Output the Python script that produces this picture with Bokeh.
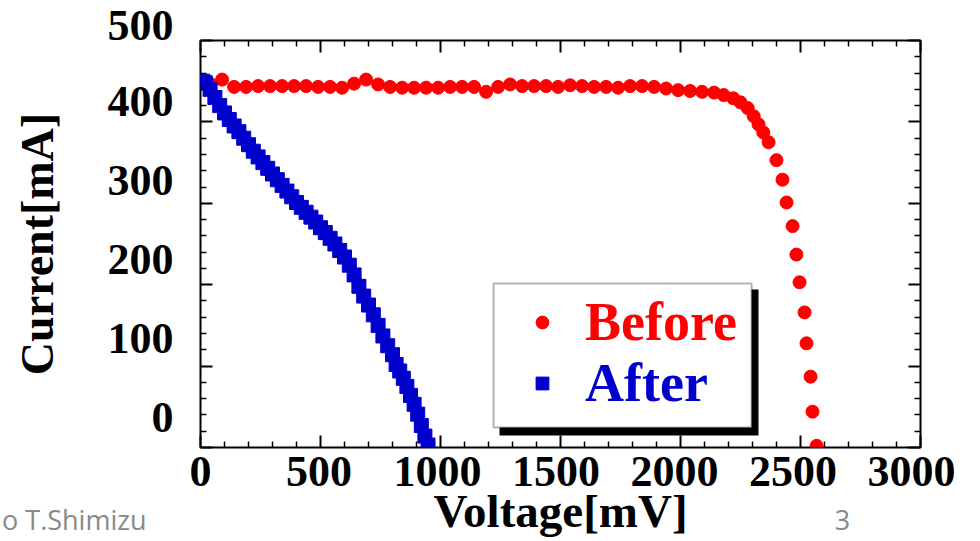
from bokeh.plotting import figure
from bokeh.models import (Range1d, LinearAxis, FixedTicker, Legend, LegendItem,
                          BoxAnnotation)
from bokeh.core.properties import value
from bokeh.embed import file_html
from bokeh.resources import INLINE

# ---------------- data ----------------
before_v = [40, 90, 140, 190, 240, 290, 340, 390, 440, 490, 540, 590, 640, 690, 740,
            790, 840, 890, 940, 990, 1040, 1090, 1140, 1190, 1240, 1290, 1340, 1390,
            1440, 1490, 1540, 1590, 1640, 1690, 1740, 1790, 1840, 1890, 1940, 1990,
            2040, 2090, 2140, 2180, 2220, 2250, 2280, 2305, 2325, 2345, 2367, 2400,
            2425, 2442, 2467, 2483, 2496, 2517, 2525, 2542, 2550, 2567]
before_i = [447, 452, 443, 443, 444, 444, 444, 444, 444, 443, 443, 442, 447, 452, 446,
            443, 442, 442, 442, 442, 443, 443, 443, 437, 443, 446, 444, 444,
            444, 443, 445, 444, 443, 443, 442, 444, 444, 443, 441, 439,
            438, 437, 436, 433, 429, 424, 417, 407, 397, 387, 375, 353,
            329, 301, 272, 237, 203, 166, 128, 87, 44, 2]

after_v = [10, 20, 40, 60, 80, 100, 120, 140, 160, 180, 200, 220, 240, 260, 280, 300,
           320, 340, 360, 380, 400, 420, 440, 460, 480, 500, 520, 540, 560, 580, 600,
           620, 640, 660, 680, 700, 720, 740, 760, 780, 800, 815, 830, 845, 860, 875,
           890, 905, 920, 935, 948]
after_i = [450, 448, 440, 430, 420, 411, 403, 395, 388, 380, 372, 364, 357, 350, 343, 336,
           329, 322, 315, 308, 301, 295, 289, 283, 277, 270, 264, 257, 250, 242, 234,
           224, 212, 198, 186, 175, 163, 150, 137, 125, 114, 102, 94, 85, 75, 64,
           53, 41, 27, 14, 3]

x_ticks = [0, 500, 1000, 1500, 2000, 2500, 3000]
x_minor = [100, 200, 300, 400, 600, 700, 800, 900, 1100, 1200, 1300, 1400,
           1600, 1700, 1800, 1900, 2100, 2200, 2300, 2400, 2600, 2700, 2800, 2900]
y_ticks = [0, 100, 200, 300, 400, 500]
y_minor = [20, 40, 60, 80, 120, 140, 160, 180, 220, 240, 260, 280,
           320, 340, 360, 380, 420, 440, 460, 480]

series_names = ["Before", "After"]
series_colors = ["#ff0000", "#0000cc"]
x_title = "Voltage[mV]"
y_title = "Current[mA]"
footer_left = "o T.Shimizu"
page_number = "3"

SERIF = "Liberation Serif"
NBSP = "\u00a0"

p = figure(width=980, height=541, output_backend="svg", toolbar_location=None,
           x_range=Range1d(0, 3000), y_range=Range1d(0, 500),
           x_axis_location=None, y_axis_location=None,
           min_border_left=200, min_border_right=60, min_border_top=40,
           min_border_bottom=94, background_fill_color="white",
           border_fill_color="white")
p.grid.visible = False
p.outline_line_color = "black"
p.outline_line_width = 2

# ranges only used to place texts the way the original software did
p.extra_x_ranges = {"xlab": Range1d(-0.01, 3038), "foot": Range1d(0, 720)}
p.extra_y_ranges = {"ylab": Range1d(-1, 514)}


def tick_axis(positions, length, width, **kw):
    # an axis that only draws inward tick marks (no labels)
    return LinearAxis(ticker=FixedTicker(ticks=[], minor_ticks=positions),
                      axis_line_color=None,
                      major_tick_in=0, major_tick_out=0, major_tick_line_color=None,
                      minor_tick_in=length, minor_tick_out=0,
                      minor_tick_line_width=width, minor_tick_line_color="black",
                      major_label_standoff=0, **kw)


def label_axis(ticks, **kw):
    return LinearAxis(ticker=FixedTicker(ticks=ticks, minor_ticks=[]),
                      axis_line_color=None,
                      major_tick_in=0, major_tick_out=0,
                      minor_tick_in=0, minor_tick_out=0,
                      major_tick_line_color=None, minor_tick_line_color=None,
                      **kw)


for side in ["below", "above"]:
    p.add_layout(tick_axis(x_minor, 6, 1.5), side)
    p.add_layout(tick_axis(x_ticks, 12, 2), side)
for side in ["left", "right"]:
    p.add_layout(tick_axis(y_minor, 6, 1.5), side)
    p.add_layout(tick_axis(y_ticks, 12, 2), side)

p.add_layout(label_axis(x_ticks, x_range_name="xlab",
                        major_label_text_font=SERIF, major_label_text_font_style="bold",
                        major_label_text_font_size="44px", major_label_text_color="black",
                        major_label_standoff=9,
                        axis_label=x_title, axis_label_standoff=-4,
                        axis_label_text_font=SERIF, axis_label_text_font_style="bold",
                        axis_label_text_font_size="47px",
                        axis_label_text_color="black"), "below")

footer_positions = [0, 642]
p.add_layout(label_axis(footer_positions, x_range_name="foot",
                        major_label_overrides={footer_positions[0]: footer_left + NBSP * 36,
                                               footer_positions[1]: page_number},
                        major_label_text_font="Open Sans",
                        major_label_text_font_size="27px",
                        major_label_text_color="#898989",
                        major_label_standoff=-39), "below")

# the original software prints the value labels a little above their ticks
y_label_text = {t: str(t) + "\n" for t in y_ticks}
p.add_layout(label_axis(y_ticks, y_range_name="ylab",
                        major_label_overrides=y_label_text,
                        major_label_text_font=SERIF, major_label_text_font_style="bold",
                        major_label_text_font_size="44px", major_label_text_color="black",
                        major_label_standoff=27,
                        axis_label=y_title, axis_label_standoff=42,
                        axis_label_text_font=SERIF, axis_label_text_font_style="bold",
                        axis_label_text_font_size="46px",
                        axis_label_text_color="black"), "left")

r_before = p.scatter(before_v, before_i, marker="circle", size=13,
                     fill_color=series_colors[0], line_color=series_colors[0])
r_after = p.scatter(after_v, after_i, marker="square", size=14,
                    fill_color=series_colors[1], line_color=series_colors[1])

# legend frame with its drop shadow
p.add_layout(BoxAnnotation(left=1246, right=2325, top=194, bottom=14.7,
                           fill_color="black", fill_alpha=1, line_color=None))
p.add_layout(BoxAnnotation(left=1221, right=2296, top=201.5, bottom=24.6,
                           fill_color="white", fill_alpha=1, line_color="black",
                           line_width=2))

for name, color, rend, loc in [(series_names[0], series_colors[0], r_before, (326, 93)),
                               (series_names[1], series_colors[1], r_after, (326, 32))]:
    leg = Legend(items=[LegendItem(label=value(name), renderers=[rend])],
                 location=loc, border_line_color=None, background_fill_alpha=0,
                 padding=0, margin=0, spacing=0,
                 glyph_width=32, glyph_height=64, label_height=64,
                 label_standoff=27, label_text_font=SERIF,
                 label_text_font_style="bold", label_text_font_size="54px",
                 label_text_color=color)
    p.add_layout(leg)

open("out.html", "w").write(file_html(p, INLINE))
